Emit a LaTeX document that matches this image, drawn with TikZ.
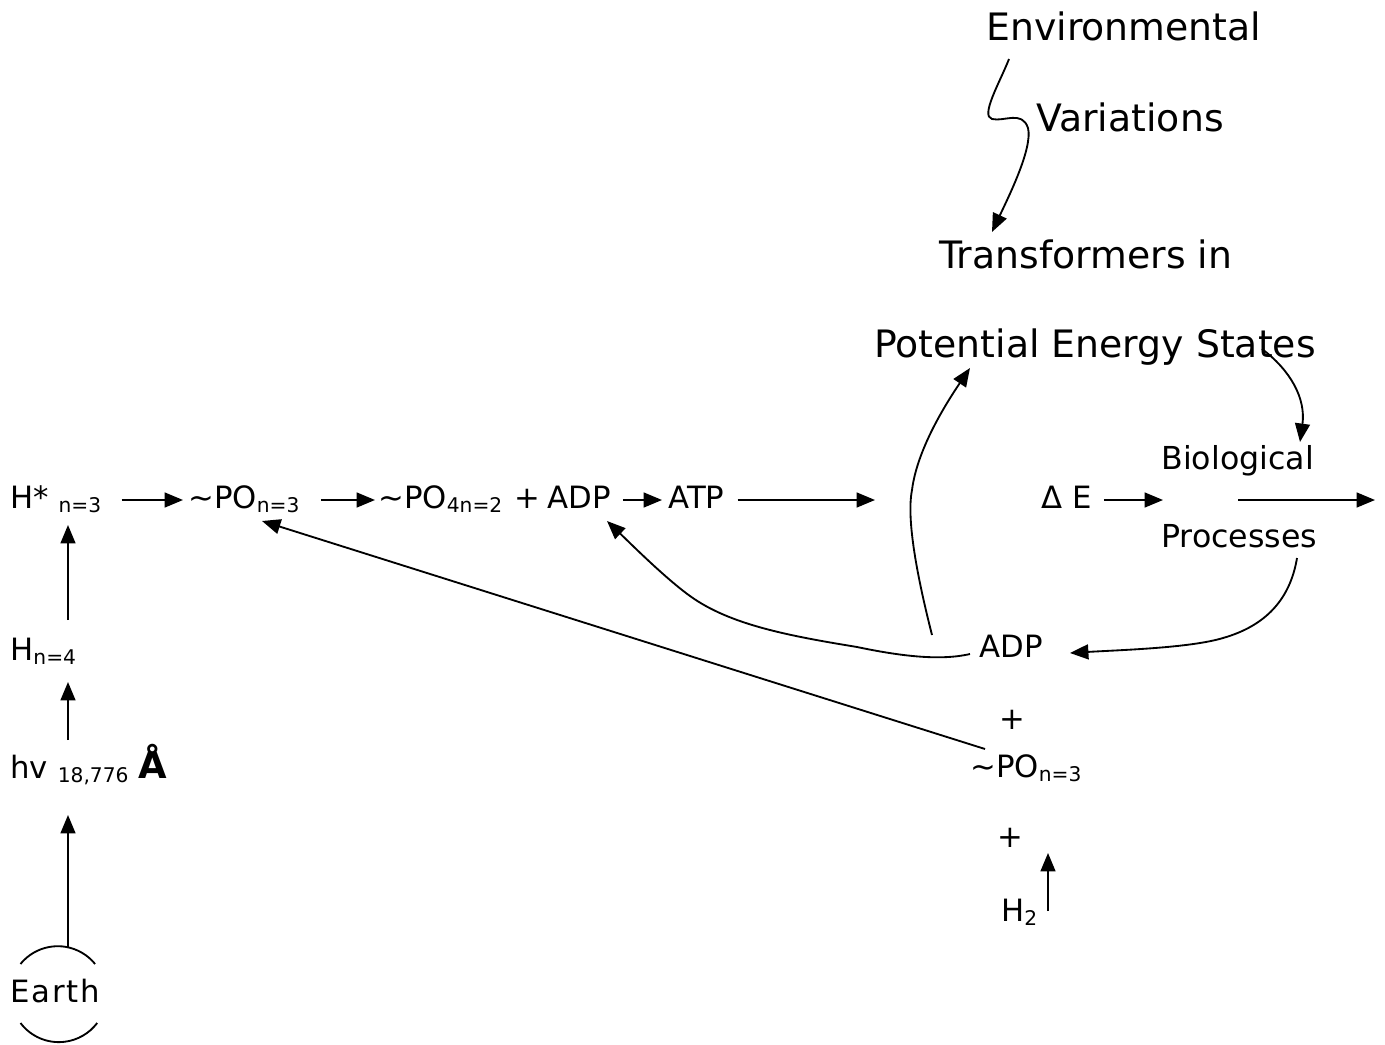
\documentclass[tikz,border=0pt]{standalone}
\usepackage{fontspec}
\setmainfont{DejaVu Sans}
\usetikzlibrary{arrows.meta,calc}
\newcommand\fmain{\fontsize{17.5}{20}\selectfont}
\newcommand\fbig{\fontsize{21.5}{25}\selectfont}
\newcommand\fsub{\fontsize{11.5}{13}\selectfont}
\newcommand\lowsub[1]{\raisebox{-2.8pt}{\fsub #1}}
\tikzset{
  lbl/.style={inner sep=0pt, anchor=base west, font=\fmain},
  biglbl/.style={inner sep=0pt, anchor=base west, font=\fbig},
  midlbl/.style={inner sep=0pt, anchor=base west, font=\fontsize{18}{20}\selectfont},
  arr/.style={-{Triangle[length=10.5pt,width=8.5pt]}, line width=1.05pt},
}
\begin{document}
\begin{tikzpicture}[x=0.02cm,y=-0.02cm]
\useasboundingbox (0,0) rectangle (1385,1044);
% left column
\node[lbl] (hstar) at (10,508) {H*~\lowsub{n=3}};
\node[lbl] (hn4) at (10,660) {H\lowsub{n=4}};
\node[lbl] (hv) at (10,778) {hv~\lowsub{18,776}~\textbf{\fontsize{21}{22}\selectfont Å}};
\node[inner sep=0pt, anchor=base, font=\fmain\addfontfeature{LetterSpace=6}] (earth) at (55,1002) {Earth};
\coordinate (ec) at (58.5,994);
\draw[line width=1.05pt] ($(ec)+(-38,-30)$) arc[start angle=-141,end angle=-39,radius=48];
\draw[line width=1.05pt] ($(ec)+(-38,29)$) arc[start angle=143,end angle=37,radius=48];
% main row
\node[lbl] (po1) at (188,508) {\textasciitilde PO\lowsub{n=3}};
\node[lbl] (po4) at (378,508) {\textasciitilde PO\lowsub{4n=2}};
\node[inner sep=0pt, anchor=base, font=\fmain] (plus1) at (527,508) {+};
\node[lbl] (adp1) at (547,508) {ADP};
\node[lbl] (atp) at (668,508) {ATP};
\coordinate (gapE) at (875,500);
\node[lbl] (dE) at (1041,508) {Δ E};
\node[midlbl] (bio) at (1161,469) {Biological};
\node[midlbl] (proc) at (1161,547) {Processes};
\coordinate (bpin) at (1163,500);
\coordinate (bpout) at (1238,500);
\coordinate (rend) at (1375,500);
% top right
\node[biglbl] (env) at (986,41) {Environmental};
\node[biglbl] (var) at (1036,132) {Variations};
\node[biglbl] (trans) at (939,268) {Transformers in};
\node[biglbl] (pot) at (874,357) {Potential Energy States};
% lower right
\node[lbl] (adp2) at (979,657) {ADP};
\node[inner sep=0pt, anchor=base, font=\fmain] (plus2) at (1012,729) {+};
\node[lbl] (po2) at (970,777) {\textasciitilde PO\lowsub{n=3}};
\node[inner sep=0pt, anchor=base, font=\fmain] (plus3) at (1010,847) {+};
\node[lbl] (h2) at (1001,921) {H\lowsub{2}};
% connectors main row
\draw[arr] ($(hstar.base east)+(20,-8)$) -- ($(po1.base west)+(-5,-8)$);
\draw[arr] ($(po1.base east)+(21,-8)$) -- ($(po4.base west)+(-3,-8)$);
\draw[arr] ($(adp1.base east)+(12,-8)$) -- ($(atp.base west)+(-6,-8)$);
\draw[arr] ($(atp.base east)+(13,-8)$) -- (gapE);
\draw[arr] ($(dE.base east)+(12,-8)$) -- (bpin);
\draw[arr] (bpout) -- (rend);
% left column arrows
\draw[arr] ($(ec)+(9.5,-47)$) -- ($(hv.base west)+(58,37)$);
\draw[arr] ($(hv.base west)+(58,-38)$) -- ($(hn4.base west)+(58,22)$);
\draw[arr] ($(hn4.base west)+(58,-40)$) -- ($(hstar.base west)+(58,17)$);
% top right squiggle
\draw[arr] ($(env.base west)+(23,18)$) .. controls (1000,82) and (980,116) .. (992,119)
  .. controls (1004,122) and (1022,110) .. (1028,128)
  .. controls (1033,148) and (1008,198) .. ($(trans.base west)+(53,-36)$);
% curves
\draw[arr] ($(adp2.base west)+(-47,-22)$) .. controls (918,580) and (906,520) .. (912,490)
  .. controls (917,450) and (945,405) .. ($(pot.base west)+(96,11)$);
\draw[arr] ($(adp2.base west)+(-9,-3)$) .. controls (940,661) and (900,656) .. (857,647)
  .. controls (790,636) and (730,625) .. (690,596)
  .. controls (665,578) and (630,543) .. ($(adp1.base west)+(60,13)$);
\draw[arr] ($(proc.base west)+(136,11)$) .. controls (1290,600) and (1265,626) .. (1223,638)
  .. controls (1190,648) and (1120,650) .. ($(adp2.base east)+(27,-4)$);
\draw[arr] ($(pot.base west)+(388,-8)$) .. controls (1290,370) and (1306,398) .. ($(bio.base west)+(139,-27)$);
\draw[arr] ($(po2.base west)+(15,-28)$) -- ($(po1.base west)+(74,13)$);
\draw[arr] ($(h2.base west)+(47,-10)$) -- ($(plus3.base)+(38,6)$);
\end{tikzpicture}
\end{document}
